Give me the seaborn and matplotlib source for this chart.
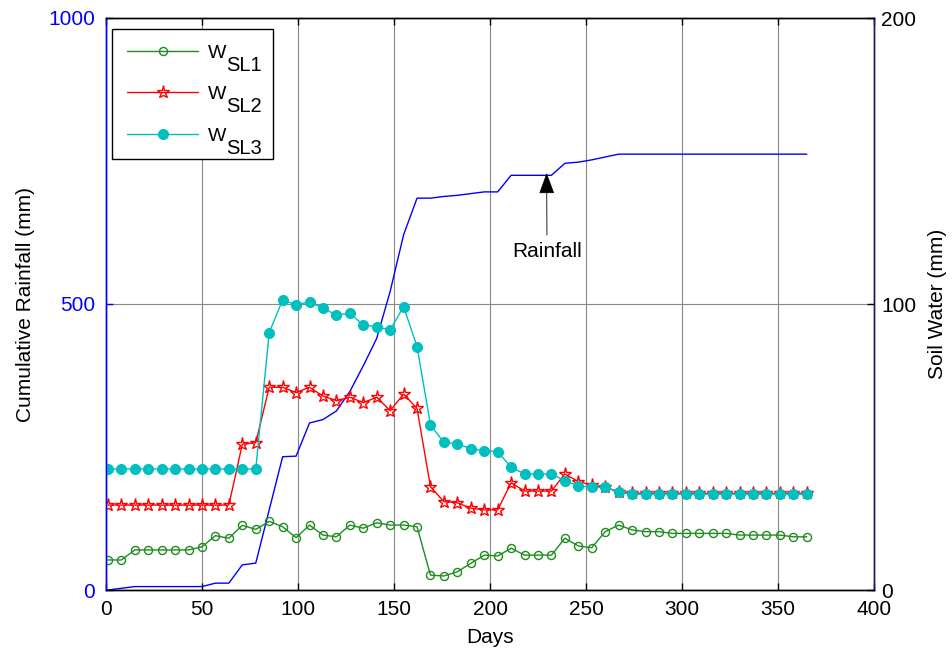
import matplotlib
matplotlib.use("Agg")
import matplotlib.pyplot as plt
import seaborn as sns
import pandas as pd

# ---------------- data ----------------
days = list(range(1, 366, 7))  # 53 sampling days

rain = [0, 3, 6, 6, 6, 6, 6, 6, 12, 12,
        44, 47, 140, 233, 234, 292, 298, 313, 347, 392,
        440, 522, 621, 685, 685, 688, 690, 693, 696, 696,
        725, 725, 725, 725, 746, 748, 752, 757, 762,
        762, 762, 762, 762, 762, 762, 762, 762, 762, 762, 762, 762, 762, 762]

ws1 = [10.5, 10.5, 14.0, 14.0, 14.0, 14.0, 14.0, 15.1, 19.0, 18.1,
       22.6, 21.2, 24.0, 22.1, 18.3, 22.7, 19.2, 18.6, 22.7, 21.6,
       23.5, 22.7, 22.7, 22.1, 5.2, 4.9, 6.4, 9.3, 12.2, 11.9,
       14.6, 12.2, 12.2, 12.2, 18.1, 15.4, 14.8, 20.4, 22.7, 21.0,
       20.4, 20.4, 19.8, 19.8, 19.8, 19.8, 19.8, 19.2, 19.2, 19.2,
       19.2, 18.6, 18.6]

ws2 = [29.7, 29.7, 29.7, 29.7, 29.7, 29.7, 29.7, 29.7, 29.7, 29.7,
       51.0, 51.5, 70.9, 70.9, 69.0, 70.9, 67.8, 66.2, 67.4, 65.5,
       67.4, 62.7, 68.5, 63.5, 36.1, 30.9, 30.5, 28.6, 28.0, 28.0,
       37.5, 34.6, 34.6, 34.6, 40.6, 37.9, 36.7, 35.9, 34.4, 33.8,
       33.8, 33.8, 33.8, 33.8, 33.8, 33.8, 33.8, 33.8, 33.8, 33.8,
       33.8, 33.8, 33.8]

ws3 = [42.3, 42.3, 42.3, 42.3, 42.3, 42.3, 42.3, 42.3, 42.3, 42.3,
       42.3, 42.3, 90.0, 101.4, 99.7, 100.8, 98.5, 96.2, 96.7, 92.7,
       92.1, 90.9, 99.1, 85.1, 57.7, 51.6, 51.1, 49.4, 48.7, 48.4,
       42.9, 40.6, 40.6, 40.6, 38.2, 36.5, 35.9, 35.9, 34.2, 33.5,
       33.5, 33.5, 33.5, 33.5, 33.5, 33.5, 33.5, 33.5, 33.5, 33.5,
       33.5, 33.5, 33.5]

series_labels = ["W", "W", "W"]
sub_labels = ["SL1", "SL2", "SL3"]
x_ticks = [0, 50, 100, 150, 200, 250, 300, 350, 400]
rain_ticks = [0, 500, 1000]
sw_ticks = [0, 100, 200]

# ---------------- style ----------------
sns.set_style("ticks")
plt.rcParams["font.family"] = ["Liberation Sans", "DejaVu Sans"]
for k in ("text.color", "axes.labelcolor", "xtick.color", "ytick.color"):
    plt.rcParams[k] = "black"

FS = 15

fig = plt.figure(figsize=(9.53, 6.53), dpi=100)
ax = fig.add_axes([106 / 953, 63 / 653, 768 / 953, 572 / 653])
ax2 = ax.twinx()

df = pd.DataFrame({"day": days, "rain": rain, "ws1": ws1, "ws2": ws2, "ws3": ws3})

sns.lineplot(data=df, x="day", y="rain", ax=ax, color="#0000FF", lw=1.0, legend=False)

green, red, cyan = "#1E8C1E", "#FF0000", "#00BFBF"
sns.lineplot(data=df, x="day", y="ws1", ax=ax2, color=green, lw=1.0,
             marker="o", markersize=5.8, markerfacecolor="none",
             markeredgecolor=green, markeredgewidth=1.0, label=series_labels[0])
sns.lineplot(data=df, x="day", y="ws2", ax=ax2, color=red, lw=1.0,
             marker="*", markersize=9.5, markerfacecolor="none",
             markeredgecolor=red, markeredgewidth=1.0, label=series_labels[1])
sns.lineplot(data=df, x="day", y="ws3", ax=ax2, color=cyan, lw=1.0,
             marker="o", markersize=7.2, markerfacecolor=cyan,
             markeredgecolor=cyan, label=series_labels[2])

ax.set_xlim(0, 400)
ax.set_ylim(0, 1000)
ax2.set_ylim(0, 200)
ax.set_xticks(x_ticks)
ax.set_yticks(rain_ticks)
ax2.set_yticks(sw_ticks)

ax.grid(True, color="#888888", lw=0.8)
ax2.grid(False)

ax.tick_params(axis="x", direction="in", length=5, width=1, labelsize=FS,
               top=True, colors="black", pad=7)
ax.tick_params(axis="y", direction="in", length=5, width=1, labelsize=FS,
               colors="blue", pad=8)
ax2.tick_params(axis="y", direction="in", length=5, width=1, labelsize=FS,
                colors="black", pad=5)

for a in (ax, ax2):
    a.spines["left"].set_color("blue")
    a.spines["right"].set_color("#1a1a60")
    a.spines["top"].set_color("black")
    a.spines["bottom"].set_color("black")
    for s in a.spines.values():
        s.set_linewidth(1.0)

ax.set_xlabel("Days", fontsize=FS)
ax.set_ylabel("Cumulative Rainfall (mm)", fontsize=FS)
ax2.set_ylabel("Soil Water (mm)", fontsize=FS)
ax.xaxis.set_label_coords(0.5, -0.066)
ax.yaxis.set_label_coords(-0.092, 0.5)
ax2.yaxis.set_label_coords(1.07, 0.5)

ax.annotate("Rainfall", xy=(229.5, 729), xytext=(229.7, 591),
            ha="center", va="center", fontsize=FS,
            arrowprops=dict(arrowstyle="-|>,head_length=0.95,head_width=0.35",
                            color="black", lw=0.6, mutation_scale=14,
                            shrinkA=3, shrinkB=0))

LFS = 14
handles, _ = ax2.get_legend_handles_labels()
leg = ax2.legend(handles, series_labels, loc="upper left",
                 bbox_to_anchor=(0.0082, 0.7488, 0.2096, 0.2315),
                 mode="expand", borderaxespad=0, fontsize=LFS,
                 handlelength=3.66, handletextpad=0.5, labelspacing=1.22,
                 borderpad=0.77, numpoints=1, fancybox=False, framealpha=1,
                 edgecolor="black")
leg.get_frame().set_linewidth(1.0)
leg.set_zorder(5)

for txt, sub in zip(leg.get_texts(), sub_labels):
    ax2.annotate(sub, xy=(0, 0), xycoords=txt, xytext=(13.0, 4.1),
                 textcoords="offset points", fontsize=14.5, va="top", ha="left",
                 zorder=10, annotation_clip=False)

fig.savefig("out.png", dpi=100)
